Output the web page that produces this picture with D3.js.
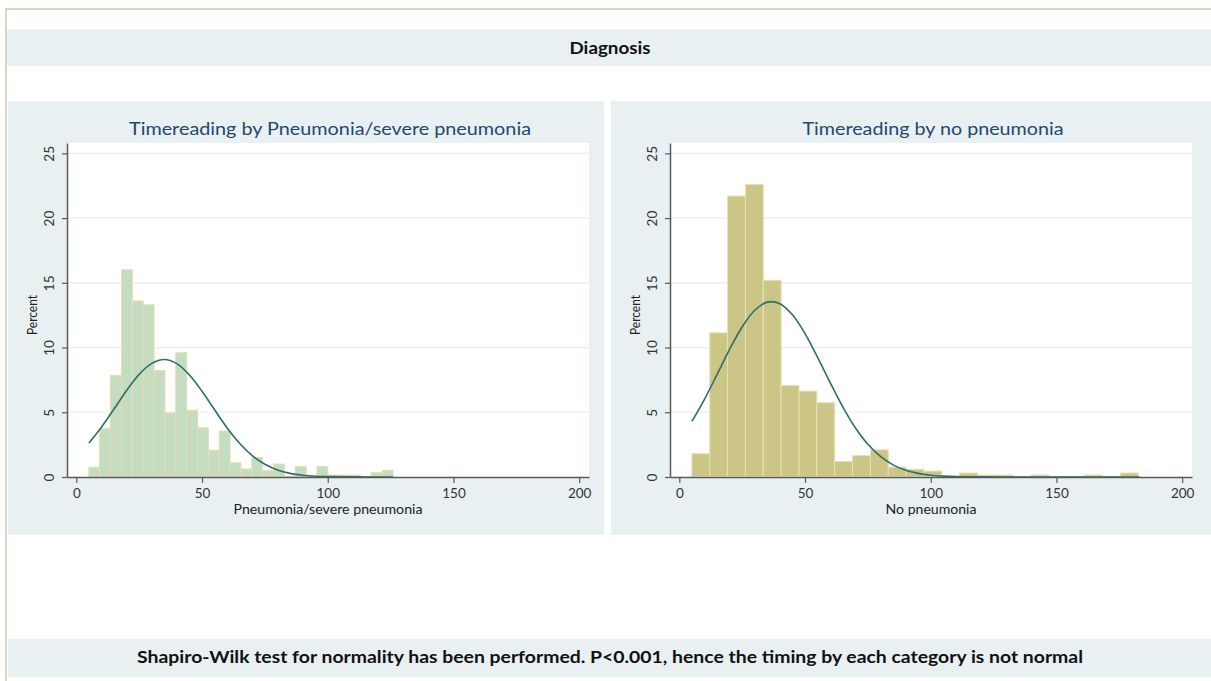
<!DOCTYPE html>
<html>
<head>
<meta charset="utf-8">
<script src="https://cdn.jsdelivr.net/npm/d3@7"></script>
<style>
  body { margin: 0; background: #fff; }
  svg text { font-family: Lato, "Open Sans", sans-serif; }
</style>
</head>
<body>
<div id="chart"></div>
<script>
// Data
const pneuBinStart = 5;
const pneuBinWidth = 4.32;
const pneuPercent = [0.75, 3.73, 7.85, 16.0, 13.6, 13.3, 8.23, 4.94, 9.6, 5.15, 3.8, 2.06, 3.55, 1.1,
  0.62, 1.52, 0.49, 1.0, 0, 0.8, 0, 0.8, 0.15, 0.15, 0.15, 0, 0.33, 0.5];
const pneuCurveX = [5, 10, 15, 20, 25, 30, 35, 40, 45, 50, 55, 60, 65, 70, 75, 80, 85, 90, 95, 100, 110, 126];
const pneuCurveY = [2.63, 3.85, 5.25, 6.68, 7.93, 8.78, 9.08, 8.76, 7.88, 6.62, 5.19, 3.79, 2.59, 1.65,
  0.98, 0.54, 0.28, 0.14, 0.06, 0.03, 0.01, 0];

const noPneuBinStart = 5;
const noPneuBinWidth = 7.1;
const noPneuPercent = [1.8, 11.14, 21.7, 22.6, 15.2, 7.07, 6.64, 5.74, 1.2, 1.65, 2.1, 0.77, 0.6,
  0.46, 0, 0.31, 0.15, 0.15, 0, 0.15, 0, 0, 0.15, 0, 0.31];
const noPneuCurveX = [5, 10, 15, 20, 25, 30, 35, 40, 45, 50, 55, 60, 65, 70, 75, 80, 85, 90, 95, 100, 105, 110, 120, 183];
const noPneuCurveY = [4.29, 6.0, 7.91, 9.86, 11.59, 12.88, 13.51, 13.39, 12.53, 11.08, 9.24, 7.29, 5.42,
  3.81, 2.53, 1.59, 0.94, 0.52, 0.28, 0.14, 0.07, 0.03, 0.01, 0];

const xTicks = [0, 50, 100, 150, 200];
const yTicks = [0, 5, 10, 15, 20, 25];

const headerText = "Diagnosis";
const footerText = "Shapiro-Wilk test for normality has been performed. P<0.001, hence the timing by each category is not normal";

const panels = [
  {
    title: "Timereading by Pneumonia/severe pneumonia",
    xLabel: "Pneumonia/severe pneumonia",
    binStart: pneuBinStart, binWidth: pneuBinWidth, percent: pneuPercent,
    curveX: pneuCurveX, curveY: pneuCurveY,
    box: { x: 8, w: 596 }, plot: { x0: 67, x1: 589 },
    fill: "#c4ddc2", stroke: "#e6ddaa",
    titleLen: 402, xLabelLen: 189
  },
  {
    title: "Timereading by no pneumonia",
    xLabel: "No pneumonia",
    binStart: noPneuBinStart, binWidth: noPneuBinWidth, percent: noPneuPercent,
    curveX: noPneuCurveX, curveY: noPneuCurveY,
    box: { x: 611, w: 600 }, plot: { x0: 670, x1: 1192 },
    fill: "#cbc586", stroke: "#e6e2b8",
    titleLen: 261, xLabelLen: 91
  }
];

const W = 1211, H = 681;
const bandColor = "#e8f0f2";
const plotTop = 143, plotBottom = 477;

const svg = d3.select("#chart").append("svg")
  .attr("width", W)
  .attr("height", H);

// outer frame
svg.append("path")
  .attr("d", `M6,${H} L6,9 L${W},9`)
  .attr("fill", "none")
  .attr("stroke", "#ddd7c2")
  .attr("stroke-width", 2);

// header band
svg.append("rect").attr("x", 7).attr("y", 29).attr("width", W - 7).attr("height", 37).attr("fill", bandColor);
svg.append("text")
  .attr("x", 610).attr("y", 54)
  .attr("text-anchor", "middle")
  .attr("font-size", 17.5).attr("font-weight", "bold").attr("fill", "#111")
  .attr("textLength", 81).attr("lengthAdjust", "spacingAndGlyphs")
  .text(headerText);

// footer band
svg.append("rect").attr("x", 8).attr("y", 639).attr("width", W - 8).attr("height", 38).attr("fill", bandColor);
svg.append("text")
  .attr("x", 610).attr("y", 663)
  .attr("text-anchor", "middle")
  .attr("font-size", 17.5).attr("font-weight", "bold").attr("fill", "#111")
  .attr("textLength", 946).attr("lengthAdjust", "spacingAndGlyphs")
  .text(footerText);

panels.forEach(p => {
  const g = svg.append("g");

  // graph region
  g.append("rect")
    .attr("x", p.box.x).attr("y", 101)
    .attr("width", p.box.w).attr("height", 434)
    .attr("fill", bandColor);

  // plot region
  g.append("rect")
    .attr("x", p.plot.x0).attr("y", plotTop)
    .attr("width", p.plot.x1 - p.plot.x0).attr("height", plotBottom - plotTop)
    .attr("fill", "#fff");

  const x = d3.scaleLinear().domain([-3.7, 203.9]).range([p.plot.x0, p.plot.x1]);
  const y = d3.scaleLinear().domain([0, 25.8]).range([plotBottom, plotTop]);

  // grid lines
  g.selectAll(".grid")
    .data(yTicks.filter(t => t > 0))
    .enter().append("line")
    .attr("x1", p.plot.x0).attr("x2", p.plot.x1)
    .attr("y1", d => y(d)).attr("y2", d => y(d))
    .attr("stroke", "#e4edf1")
    .attr("stroke-width", 1.2);

  // bars
  const bins = p.percent.map((v, i) => ({
    x0: p.binStart + i * p.binWidth,
    x1: p.binStart + (i + 1) * p.binWidth,
    v: v
  })).filter(d => d.v > 0);

  g.selectAll(".bar")
    .data(bins)
    .enter().append("rect")
    .attr("x", d => x(d.x0))
    .attr("y", d => y(d.v))
    .attr("width", d => x(d.x1) - x(d.x0))
    .attr("height", d => y(0) - y(d.v))
    .attr("fill", p.fill)
    .attr("stroke", p.stroke)
    .attr("stroke-width", 1);

  // baseline across the whole bin range
  g.append("line")
    .attr("x1", x(p.binStart)).attr("x2", x(p.binStart + p.percent.length * p.binWidth))
    .attr("y1", y(0) - 0.5).attr("y2", y(0) - 0.5)
    .attr("stroke", p.stroke).attr("stroke-width", 1);

  // normal curve
  const line = d3.line()
    .x(d => x(d[0]))
    .y(d => y(d[1]))
    .curve(d3.curveCatmullRom.alpha(0.5));
  g.append("path")
    .datum(p.curveX.map((v, i) => [v, p.curveY[i]]))
    .attr("fill", "none")
    .attr("stroke", "#2e6e6b")
    .attr("stroke-width", 1.6)
    .attr("d", line);

  // axes
  const xAxis = g.append("g")
    .attr("transform", `translate(0,${plotBottom})`)
    .call(d3.axisBottom(x).tickValues(xTicks).tickSize(6).tickSizeOuter(0).tickPadding(4));
  const yAxis = g.append("g")
    .attr("transform", `translate(${p.plot.x0},0)`)
    .call(d3.axisLeft(y).tickValues(yTicks).tickSize(5).tickSizeOuter(0));

  [xAxis, yAxis].forEach(a => {
    a.attr("font-family", null).attr("font-size", null);
    a.select(".domain").attr("stroke", "#5a5a5a").attr("stroke-width", 1.5);
    a.selectAll(".tick line").attr("stroke", "#5a5a5a").attr("stroke-width", 1.2);
    a.selectAll(".tick text").attr("fill", "#333").attr("font-size", 13.5);
  });
  xAxis.selectAll(".tick text").attr("y", 11).attr("dy", "0.71em");
  yAxis.selectAll(".tick text")
    .attr("transform", "rotate(-90)")
    .attr("x", 0).attr("y", -13).attr("dy", 0)
    .attr("text-anchor", "middle");

  // axis titles
  g.append("text")
    .attr("x", (p.plot.x0 + p.plot.x1) / 2).attr("y", 513.5)
    .attr("text-anchor", "middle")
    .attr("font-size", 13.5).attr("fill", "#222")
    .attr("textLength", p.xLabelLen).attr("lengthAdjust", "spacingAndGlyphs")
    .text(p.xLabel);
  g.append("text")
    .attr("transform", `translate(${p.plot.x0 - 30},${(plotTop + plotBottom) / 2 + 5}) rotate(-90)`)
    .attr("text-anchor", "middle")
    .attr("font-size", 14).attr("fill", "#222")
    .attr("textLength", 40).attr("lengthAdjust", "spacingAndGlyphs")
    .text("Percent");

  // panel title
  g.append("text")
    .attr("x", (p.plot.x0 + p.plot.x1) / 2 + 2).attr("y", 135)
    .attr("text-anchor", "middle")
    .attr("font-size", 17.5).attr("fill", "#1f4870")
    .attr("textLength", p.titleLen).attr("lengthAdjust", "spacingAndGlyphs")
    .text(p.title);
});
</script>
</body>
</html>
